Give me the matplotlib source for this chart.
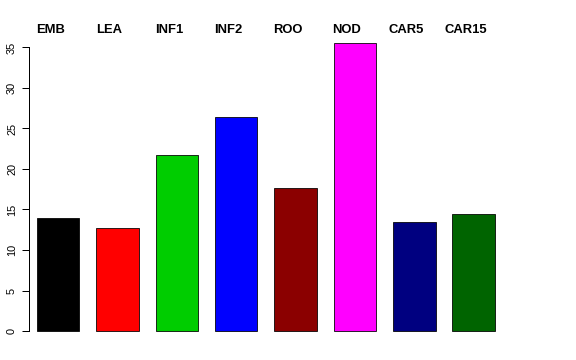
import matplotlib
matplotlib.use("Agg")
import matplotlib.pyplot as plt
import numpy as np

categories = ["EMB", "LEA", "INF1", "INF2", "ROO", "NOD", "CAR5", "CAR15"]
values = [13.97, 12.75, 21.77, 26.47, 17.65, 35.6, 13.45, 14.5]
colors = ["#000000", "#FF0000", "#00CD00", "#0000FF", "#8B0000", "#FF00FF", "#000080", "#006400"]
yticks = [0, 5, 10, 15, 20, 25, 30, 35]

plt.rcParams['font.family'] = ['Liberation Sans', 'DejaVu Sans']

W, H = 576, 360
fig = plt.figure(figsize=(W / 72, H / 72), dpi=72)

px_per_x = 42.4
x0_px = 20.0
left_px, right_px = 29, 560
ymax = 37.0
px_per_y = 8.1
bottom_px = 331

ax = fig.add_axes([left_px / W, (H - bottom_px) / H,
                   (right_px - left_px) / W, ymax * px_per_y / H])
ax.set_xlim((left_px - x0_px) / px_per_x, (right_px - x0_px) / px_per_x)
ax.set_ylim(0, ymax)

centers = 0.9 + 1.4 * np.arange(len(categories))
ax.bar(centers, values, width=1.0, color=colors, edgecolor="black", linewidth=0.8, clip_on=False)

label_y = (bottom_px - 30) / px_per_y
for c, lab in zip(centers, categories):
    ax.text(c - 8 / px_per_x, label_y, lab, ha="center", va="center",
            fontsize=13, fontweight="bold", clip_on=False)

for s in ["top", "right", "bottom"]:
    ax.spines[s].set_visible(False)
ax.spines["left"].set_bounds(0, 35)
ax.spines["left"].set_linewidth(1.0)
ax.set_xticks([])
ax.set_yticks(yticks)
ax.set_yticklabels([str(t) for t in yticks], rotation=90, va="center", fontsize=11)
ax.tick_params(axis="y", length=7, width=1.0, pad=5)

fig.savefig("out.png", dpi=72)
